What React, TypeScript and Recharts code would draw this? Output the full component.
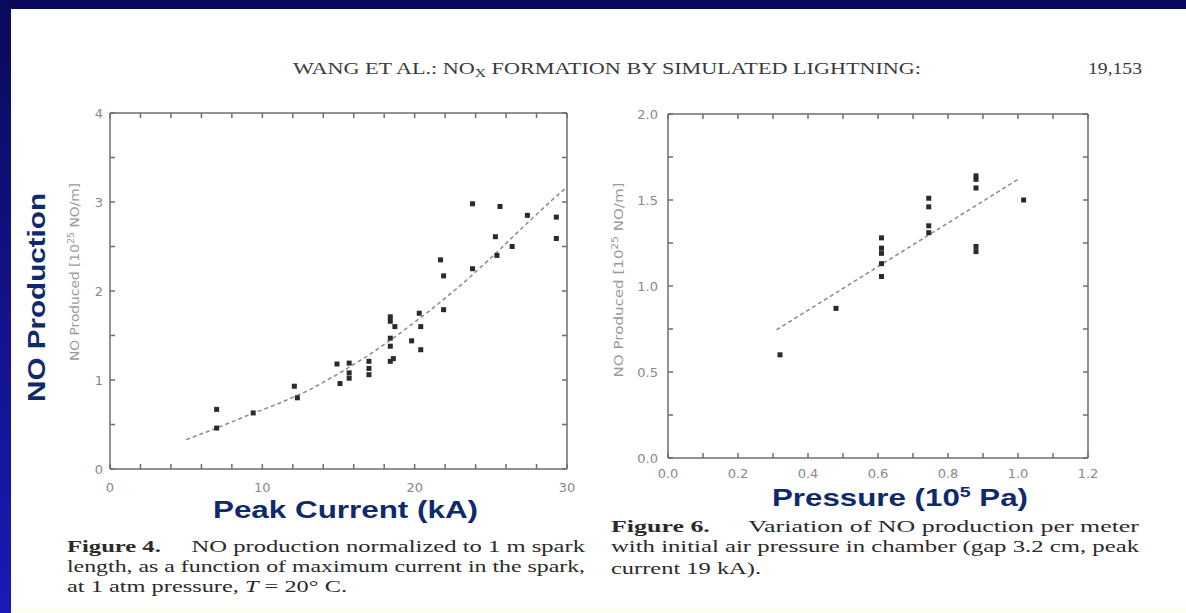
import { ComposedChart, Scatter, XAxis, YAxis } from "recharts"

// Figure 4: NO production vs. peak current
const currentKA = [7, 7, 9.4, 12.1, 12.3, 14.9, 15.1, 15.7, 15.7, 15.7, 17, 17, 17, 18.4, 18.4, 18.4, 18.4, 18.4, 18.6, 18.7, 19.8, 20.3, 20.4, 20.4, 21.7, 21.9, 21.9, 23.8, 23.8, 25.3, 25.4, 25.6, 26.4, 27.4, 29.3, 29.3]
const noByCurrent = [0.67, 0.46, 0.63, 0.93, 0.8, 1.18, 0.96, 1.19, 1.08, 1.02, 1.21, 1.13, 1.06, 1.71, 1.66, 1.47, 1.38, 1.21, 1.24, 1.6, 1.44, 1.75, 1.6, 1.34, 2.35, 2.17, 1.79, 2.98, 2.25, 2.61, 2.4, 2.95, 2.5, 2.85, 2.83, 2.59]
const fitCurrent = [5, 7, 9, 11, 13, 15, 17, 19, 21, 23, 25, 27, 29, 30]
const fitNoCurrent = [0.33, 0.46, 0.6, 0.73, 0.88, 1.07, 1.28, 1.52, 1.78, 2.06, 2.37, 2.7, 3.02, 3.17]

const currentTicks = [0, 2, 4, 6, 8, 10, 12, 14, 16, 18, 20, 22, 24, 26, 28, 30]
const currentLabels = [0, 10, 20, 30]
const noTicksLeft = [0, 0.5, 1, 1.5, 2, 2.5, 3, 3.5, 4]
const noLabelsLeft = [0, 1, 2, 3, 4]

// Figure 6: NO production vs. pressure
const pressure = [0.32, 0.48, 0.61, 0.61, 0.61, 0.61, 0.61, 0.745, 0.745, 0.745, 0.745, 0.88, 0.88, 0.88, 0.88, 0.88, 1.016]
const noByPressure = [0.6, 0.87, 1.28, 1.22, 1.19, 1.13, 1.055, 1.51, 1.46, 1.35, 1.31, 1.64, 1.62, 1.57, 1.23, 1.2, 1.5]
const fitPressure = [0.31, 1.0]
const fitNoPressure = [0.745, 1.62]

const pressureTicks = [0, 0.1, 0.2, 0.3, 0.4, 0.5, 0.6, 0.7, 0.8, 0.9, 1.0, 1.1, 1.2]
const pressureLabels = [0, 0.2, 0.4, 0.6, 0.8, 1.0, 1.2]
const noTicksRight = [0, 0.25, 0.5, 0.75, 1, 1.25, 1.5, 1.75, 2]
const noLabelsRight = [0, 0.5, 1, 1.5, 2]

const zip = (xs: number[], ys: number[]) => xs.map((x, i) => ({ x, y: ys[i] }))

const currentData = zip(currentKA, noByCurrent)
const currentFit = zip(fitCurrent, fitNoCurrent)
const pressureData = zip(pressure, noByPressure)
const pressureFit = zip(fitPressure, fitNoPressure)

const axisColor = "#6e6e6e"
const tickStyle = { fontSize: 13, fill: "#888", fontFamily: "DejaVu Sans" }
const blue = "#0f2a6c"

const Square = (props: any) => {
  const { cx, cy } = props
  if (cx == null || cy == null) return <g />
  return <rect x={cx - 2.5} y={cy - 2.5} width={5} height={5} fill="#2a2a2a" />
}
const NoShape = () => <g />

const fitLine = { stroke: "#8a8a8a", strokeWidth: 1.5, strokeDasharray: "4 3" }
const frameAxis = { stroke: axisColor, strokeWidth: 1.5, tickSize: -5, interval: 0 as const, tickFormatter: () => "" }

function CurrentChart() {
  return (
    <ComposedChart width={600} height={520} margin={{ top: 112, right: 32, left: 0, bottom: 0 }}>
      <XAxis
        dataKey="x"
        type="number"
        domain={[0, 30]}
        ticks={currentTicks}
        interval={0}
        height={51}
        stroke={axisColor}
        strokeWidth={1.5}
        tickSize={-5}
        tickMargin={19}
        tick={tickStyle}
        tickFormatter={(v) => (currentLabels.includes(v) ? String(v) : "")}
      />
      <XAxis xAxisId="top" orientation="top" dataKey="x" type="number" domain={[0, 30]} ticks={currentTicks} height={1} {...frameAxis} />
      <YAxis
        dataKey="y"
        type="number"
        domain={[0, 4]}
        ticks={noTicksLeft}
        interval={0}
        width={110}
        stroke={axisColor}
        strokeWidth={1.5}
        tickSize={-5}
        tickMargin={12}
        tick={tickStyle}
        tickFormatter={(v) => (noLabelsLeft.includes(v) ? String(v) : "")}
      />
      <YAxis yAxisId="right" orientation="right" dataKey="y" type="number" domain={[0, 4]} ticks={noTicksLeft} width={1} {...frameAxis} />
      <Scatter data={currentFit} line={fitLine} shape={NoShape} isAnimationActive={false} />
      <Scatter data={currentData} shape={Square} isAnimationActive={false} />
      <Scatter xAxisId="top" yAxisId="right" data={currentFit} shape={NoShape} isAnimationActive={false} />
    </ComposedChart>
  )
}

function PressureChart() {
  return (
    <ComposedChart width={586} height={520} margin={{ top: 113, right: 97, left: 0, bottom: 0 }}>
      <XAxis
        dataKey="x"
        type="number"
        domain={[0, 1.2]}
        ticks={pressureTicks}
        interval={0}
        height={62}
        stroke={axisColor}
        strokeWidth={1.5}
        tickSize={-5}
        tickMargin={16}
        tick={tickStyle}
        tickFormatter={(v) => (pressureLabels.includes(v) ? v.toFixed(1) : "")}
      />
      <XAxis xAxisId="top" orientation="top" dataKey="x" type="number" domain={[0, 1.2]} ticks={pressureTicks} height={1} {...frameAxis} />
      <YAxis
        dataKey="y"
        type="number"
        domain={[0, 2]}
        ticks={noTicksRight}
        interval={0}
        width={68}
        stroke={axisColor}
        strokeWidth={1.5}
        tickSize={-5}
        tickMargin={15}
        tick={tickStyle}
        tickFormatter={(v) => (noLabelsRight.includes(v) ? v.toFixed(1) : "")}
      />
      <YAxis yAxisId="right" orientation="right" dataKey="y" type="number" domain={[0, 2]} ticks={noTicksRight} width={1} {...frameAxis} />
      <Scatter data={pressureFit} line={fitLine} shape={NoShape} isAnimationActive={false} />
      <Scatter data={pressureData} shape={Square} isAnimationActive={false} />
      <Scatter xAxisId="top" yAxisId="right" data={pressureFit} shape={NoShape} isAnimationActive={false} />
    </ComposedChart>
  )
}

const serif = "Liberation Serif, DejaVu Serif, serif"
const bold = "Liberation Sans, Arial, sans-serif"
const pre = { whiteSpace: "pre" as const }

export default function App() {
  return (
    <div style={{ position: "fixed", left: 0, top: 0, width: 1186, height: 613, background: "#fff", overflow: "hidden" }}>
      <div style={{ position: "absolute", left: 0, top: 0, width: 1186, height: 9, background: "#0a0a5c" }} />
      <div style={{ position: "absolute", left: 0, top: 0, width: 11, height: 613, background: "linear-gradient(#0a0a5c, #1a1ab8)" }} />
      <div style={{ position: "absolute", left: 11, top: 606, width: 1175, height: 7, background: "#fdfdf2" }} />

      <div style={{ position: "absolute", left: 0, top: 0 }}>
        <CurrentChart />
      </div>
      <div style={{ position: "absolute", left: 600, top: 0 }}>
        <PressureChart />
      </div>

      <svg width={1186} height={613} style={{ position: "absolute", left: 0, top: 0, pointerEvents: "none" }}>
        <text x={293} y={74} fontFamily={serif} fontSize={17} fill="#3a3a3a" textLength={628} lengthAdjust="spacingAndGlyphs">
          WANG ET AL.: NO<tspan fontSize={12} dy={3}>X</tspan>
          <tspan dy={-3}> FORMATION BY SIMULATED LIGHTNING:</tspan>
        </text>
        <text x={1088} y={74} fontFamily={serif} fontSize={17} fill="#3a3a3a" textLength={54} lengthAdjust="spacingAndGlyphs">
          19,153
        </text>

        <text x={79} y={272} transform="rotate(-90 79 272)" textAnchor="middle" fontFamily="DejaVu Sans" fontSize={13} fill="#9a9a9a" textLength={178} lengthAdjust="spacingAndGlyphs">
          NO Produced [10<tspan fontSize={9} dy={-5}>25</tspan>
          <tspan dy={5}> NO/m]</tspan>
        </text>
        <text x={623} y={280} transform="rotate(-90 623 280)" textAnchor="middle" fontFamily="DejaVu Sans" fontSize={13} fill="#9a9a9a" textLength={195} lengthAdjust="spacingAndGlyphs">
          NO Produced [10<tspan fontSize={9} dy={-5}>25</tspan>
          <tspan dy={5}> NO/m]</tspan>
        </text>

        <text x={45} y={402} transform="rotate(-90 45 402)" fontFamily={bold} fontWeight="bold" fontSize={24} fill={blue} textLength={209} lengthAdjust="spacingAndGlyphs">
          NO Production
        </text>
        <text x={213} y={518} fontFamily={bold} fontWeight="bold" fontSize={24} fill={blue} textLength={265} lengthAdjust="spacingAndGlyphs">
          Peak Current (kA)
        </text>
        <text x={772} y={506} fontFamily={bold} fontWeight="bold" fontSize={24} fill={blue} textLength={256} lengthAdjust="spacingAndGlyphs">
          Pressure (10<tspan fontSize={15} dy={-9}>5</tspan>
          <tspan dy={9}> Pa)</tspan>
        </text>

        <g fontFamily={serif} fontSize={16} fill="#2a2a2a">
          <text x={67} y={552} textLength={518} lengthAdjust="spacingAndGlyphs" style={pre}>
            <tspan fontWeight="bold">Figure 4.</tspan>
            {"     NO production normalized to 1 m spark"}
          </text>
          <text x={67} y={572} textLength={518} lengthAdjust="spacingAndGlyphs">
            length, as a function of maximum current in the spark,
          </text>
          <text x={67} y={592} textLength={280} lengthAdjust="spacingAndGlyphs">
            at 1 atm pressure, <tspan fontStyle="italic">T</tspan> = 20° C.
          </text>

          <text x={611} y={532} textLength={528} lengthAdjust="spacingAndGlyphs" style={pre}>
            <tspan fontWeight="bold">Figure 6.</tspan>
            {"      Variation of NO production per meter"}
          </text>
          <text x={611} y={552} textLength={528} lengthAdjust="spacingAndGlyphs">
            with initial air pressure in chamber (gap 3.2 cm, peak
          </text>
          <text x={611} y={574} textLength={150} lengthAdjust="spacingAndGlyphs">
            current 19 kA).
          </text>
        </g>
      </svg>
    </div>
  )
}
